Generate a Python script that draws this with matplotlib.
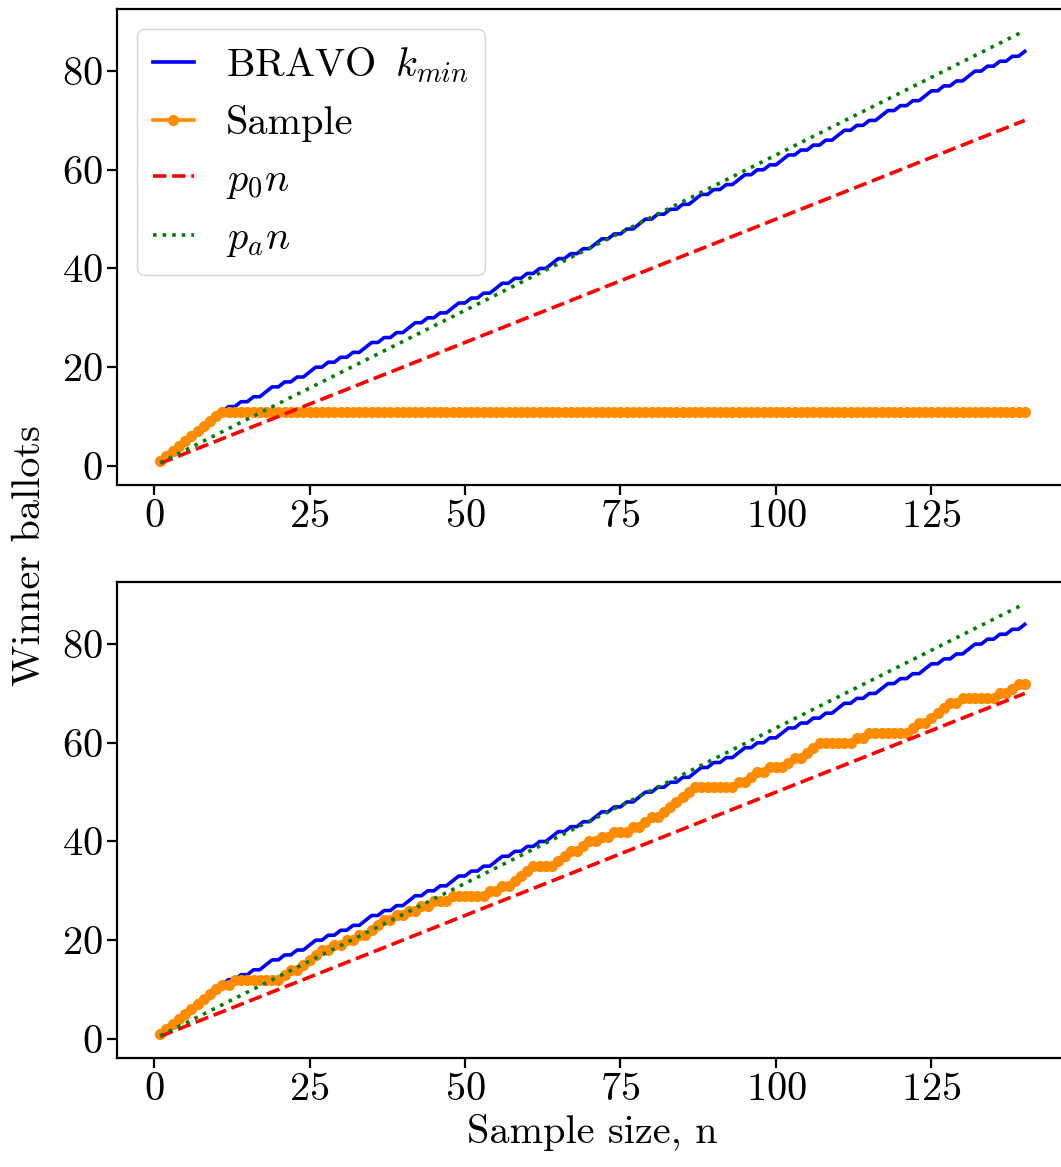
import numpy as np
import matplotlib
matplotlib.use("Agg")
import matplotlib.pyplot as plt

plt.rcParams.update({
    "font.family": "serif",
    "font.serif": ["cmr10"],
    "mathtext.fontset": "cm",
    "axes.formatter.use_mathtext": True,
    "font.size": 29,
    "axes.linewidth": 1.6,
    "xtick.major.size": 7,
    "ytick.major.size": 7,
    "xtick.major.width": 1.6,
    "ytick.major.width": 1.6,
})

# sample size
n = np.arange(1, 141)

# BRAVO k_min, defined from n = 10 onwards
kmin_n = np.arange(10, 141)
kmin = [10, 11, 12, 12, 13, 13, 14, 14, 15, 16, 16, 17, 17, 18, 18, 19, 20, 20, 21, 21,
        22, 22, 23, 23, 24, 25, 25, 26, 26, 27, 27, 28, 29, 29, 30, 30, 31, 31, 32, 33,
        33, 34, 34, 35, 35, 36, 37, 37, 38, 38, 39, 39, 40, 40, 41, 42, 42, 43, 43, 44,
        44, 45, 46, 46, 47, 47, 48, 48, 49, 50, 50, 51, 51, 52, 52, 53, 53, 54, 55, 55,
        56, 56, 57, 57, 58, 59, 59, 60, 60, 61, 61, 62, 63, 63, 64, 64, 65, 65, 66, 66,
        67, 68, 68, 69, 69, 70, 70, 71, 72, 72, 73, 73, 74, 74, 75, 76, 76, 77, 77, 78,
        78, 79, 80, 80, 81, 81, 82, 82, 83, 83, 84]

# winner ballots in the sample (top: audit stops early, bottom: full sample)
sample_top = list(range(1, 12)) + [11] * 129
sample_bottom = [1, 2, 3, 4, 5, 6, 7, 8, 9, 10,
                 11, 11, 12, 12, 12, 12, 12, 12, 12, 12,
                 13, 14, 14, 15, 16, 17, 18, 18, 19, 19,
                 20, 20, 21, 21, 22, 23, 24, 24, 25, 25,
                 26, 26, 27, 27, 28, 28, 28, 29, 29, 29,
                 29, 29, 29, 30, 30, 31, 31, 32, 33, 34,
                 35, 35, 35, 35, 36, 37, 38, 38, 39, 40,
                 40, 41, 41, 42, 42, 42, 43, 43, 44, 45,
                 45, 46, 47, 48, 49, 50, 51, 51, 51, 51,
                 51, 51, 51, 52, 52, 53, 54, 54, 55, 55,
                 55, 56, 57, 57, 58, 59, 60, 60, 60, 60,
                 60, 60, 61, 61, 62, 62, 62, 62, 62, 62,
                 62, 63, 64, 64, 65, 66, 67, 68, 68, 69,
                 69, 69, 69, 69, 69, 70, 70, 71, 72, 72]

# reference lines p0*n and pa*n (end points)
line_n = [1, 140]
p0n = [0.5, 70.0]
pan = [0.63, 88.2]

W, H = 1061, 1167
fig = plt.figure(figsize=(W / 100, H / 100), dpi=100)
ax_w = 951 / W
ax_top = fig.add_axes([117 / W, 1 - 485 / H, ax_w, 476 / H])
ax_bot = fig.add_axes([117 / W, 1 - 1058 / H, ax_w, 476 / H])

for ax, samp in [(ax_top, sample_top), (ax_bot, sample_bottom)]:
    ax.plot(kmin_n, kmin, color="blue", lw=2.6, label=r"BRAVO $\,k_{min}$")
    ax.plot(n, samp, color="darkorange", lw=2.6, marker="o", ms=7, label="Sample")
    ax.plot(line_n, p0n, color="red", ls="--", lw=2.6, label=r"$p_0n$")
    ax.plot(line_n, pan, color="green", ls=":", lw=2.6, label=r"$p_an$")
    ax.set_xticks([0, 25, 50, 75, 100, 125])
    ax.set_yticks([0, 20, 40, 60, 80])

ax_top.legend(loc="upper left", handlelength=1.0)
ax_bot.set_xlabel("Sample size, n")
fig.text(30 / W, 1 - 556 / H, "Winner ballots", rotation=90, ha="center", va="center")

fig.savefig("out.png", dpi=100)
